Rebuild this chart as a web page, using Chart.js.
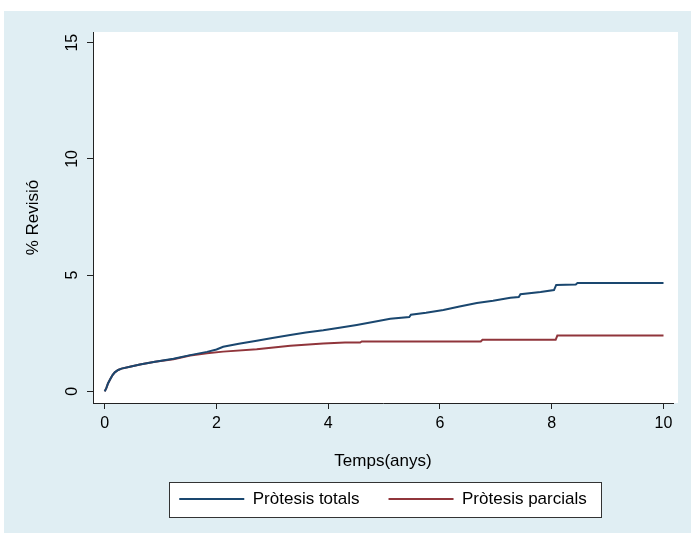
<!DOCTYPE html>
<html>
<head>
<meta charset="utf-8">
<script src="https://cdn.jsdelivr.net/npm/chart.js@4"></script>
<style>
  body { margin: 0; background: #fff; }
  canvas { display: block; }
</style>
</head>
<body>
<canvas id="kmChart" width="691" height="536"></canvas>
<script>
// cumulative revision (%) over follow-up time (years); repeated times mark the visible jumps
var totalTime = [0, 0.03, 0.06, 0.10, 0.14, 0.18, 0.24, 0.30, 0.45, 0.63, 0.90, 1.23, 1.53, 1.83, 2.00, 2.12, 2.40, 2.72, 3.00, 3.32, 3.60, 3.91, 4.20, 4.51, 4.80, 5.11, 5.45, 5.48, 5.75, 6.06, 6.35, 6.66, 6.95, 7.26, 7.41, 7.44, 7.80, 8.04, 8.08, 8.43, 8.46, 10.0];
var totalRev  = [0, 0.15, 0.35, 0.53, 0.70, 0.82, 0.92, 0.98, 1.06, 1.16, 1.27, 1.40, 1.56, 1.70, 1.80, 1.92, 2.05, 2.18, 2.30, 2.43, 2.53, 2.63, 2.74, 2.86, 2.98, 3.12, 3.20, 3.30, 3.38, 3.50, 3.65, 3.80, 3.90, 4.03, 4.06, 4.18, 4.28, 4.36, 4.58, 4.60, 4.66, 4.66];

var partialTime = [0, 0.03, 0.06, 0.10, 0.14, 0.18, 0.24, 0.30, 0.45, 0.63, 0.90, 1.23, 1.53, 1.83, 2.12, 2.72, 3.32, 3.91, 4.30, 4.57, 4.60, 6.73, 6.76, 8.07, 8.10, 10.0];
var partialRev  = [0, 0.15, 0.35, 0.53, 0.70, 0.82, 0.92, 0.98, 1.06, 1.16, 1.27, 1.38, 1.54, 1.64, 1.71, 1.81, 1.96, 2.06, 2.10, 2.10, 2.15, 2.15, 2.22, 2.22, 2.40, 2.40];

var seriesNames = ["Pròtesis totals", "Pròtesis parcials"];
var seriesColors = ["#1a476f", "#90353b"];
var xTicks = [0, 2, 4, 6, 8, 10];
var yTicks = [0, 5, 10, 15];

function toPoints(xs, ys) {
  return xs.map(function (x, i) { return {x: x, y: ys[i]}; });
}

var fontFamily = "'Liberation Sans', Arial, sans-serif";
var ink = "#000";

// page background, white plot region and the framed legend
var backdrop = {
  id: "backdrop",
  beforeDraw: function (chart) {
    var ctx = chart.ctx;
    var a = chart.chartArea;
    ctx.save();
    ctx.fillStyle = "#fff";
    ctx.fillRect(0, 0, chart.width, chart.height);
    ctx.fillStyle = "#e0eef3";
    ctx.fillRect(4, 11, chart.width - 4, 522);
    ctx.fillStyle = "#fff";
    ctx.fillRect(a.left, a.top, a.right - a.left + 5, a.bottom - a.top);

    var hb = chart.legend.legendHitBoxes;
    if (hb && hb.length) {
      var last = hb[hb.length - 1];
      var mid = hb[0].top + 8.5;
      var l = Math.round(hb[0].left - 10) + 0.5;
      var r = Math.round(last.left + last.width + 14) + 0.5;
      var t = Math.round(mid - 17) + 0.5;
      var b = Math.round(mid + 18) + 0.5;
      ctx.fillStyle = "#fff";
      ctx.fillRect(l, t, r - l, b - t);
      ctx.strokeStyle = "#333";
      ctx.lineWidth = 1;
      ctx.strokeRect(l, t, r - l, b - t);
    }
    ctx.restore();
  }
};

new Chart("kmChart", {
  type: "line",
  data: {
    datasets: [{
      label: seriesNames[0],
      data: toPoints(totalTime, totalRev),
      borderColor: seriesColors[0],
      backgroundColor: seriesColors[0],
      borderWidth: 2,
      pointRadius: 0,
      tension: 0,
      fill: false
    }, {
      label: seriesNames[1],
      data: toPoints(partialTime, partialRev),
      borderColor: seriesColors[1],
      backgroundColor: seriesColors[1],
      borderWidth: 2,
      pointRadius: 0,
      tension: 0,
      fill: false
    }]
  },
  options: {
    responsive: false,
    animation: false,
    devicePixelRatio: 1,
    layout: {padding: {left: 0, top: 32, right: 18, bottom: 18.5}},
    plugins: {
      tooltip: {enabled: false},
      legend: {
        position: "bottom",
        fullSize: false,
        labels: {
          boxWidth: 65,
          boxHeight: 2,
          padding: 29,
          color: ink,
          font: {family: fontFamily, size: 17},
          generateLabels: function (chart) {
            var items = Chart.defaults.plugins.legend.labels.generateLabels(chart);
            items.forEach(function (it) { it.lineWidth = 0; });
            return items;
          }
        }
      }
    },
    scales: {
      x: {
        type: "linear",
        min: -0.21,
        max: 10.17,
        bounds: "data",
        afterFit: function (scale) { scale.height = 58.5; },
        afterBuildTicks: function (scale) {
          scale.ticks = xTicks.map(function (v) { return {value: v}; });
        },
        border: {display: true, color: "#222", width: 1},
        grid: {drawOnChartArea: false, drawTicks: true, tickLength: 6, color: "#222"},
        ticks: {
          padding: 5,
          color: ink,
          font: {family: fontFamily, size: 16},
          maxRotation: 0
        },
        title: {
          display: true,
          text: "Temps(anys)",
          color: ink,
          font: {family: fontFamily, size: 17},
          padding: {top: 0, bottom: -9.7}
        }
      },
      y: {
        type: "linear",
        min: -0.5,
        max: 15.46,
        bounds: "data",
        afterFit: function (scale) { scale.width = 93; },
        afterBuildTicks: function (scale) {
          scale.ticks = yTicks.map(function (v) { return {value: v}; });
        },
        border: {display: true, color: "#222", width: 1},
        grid: {drawOnChartArea: false, drawTicks: true, tickLength: 6, color: "#222"},
        ticks: {
          padding: 6,
          minRotation: 90,
          maxRotation: 90,
          crossAlign: "center",
          color: ink,
          font: {family: fontFamily, size: 16}
        },
        title: {
          display: true,
          text: "% Revisió",
          color: ink,
          font: {family: fontFamily, size: 17},
          padding: {top: 22.8, bottom: 0}
        }
      }
    }
  },
  plugins: [backdrop]
});
</script>
</body>
</html>
